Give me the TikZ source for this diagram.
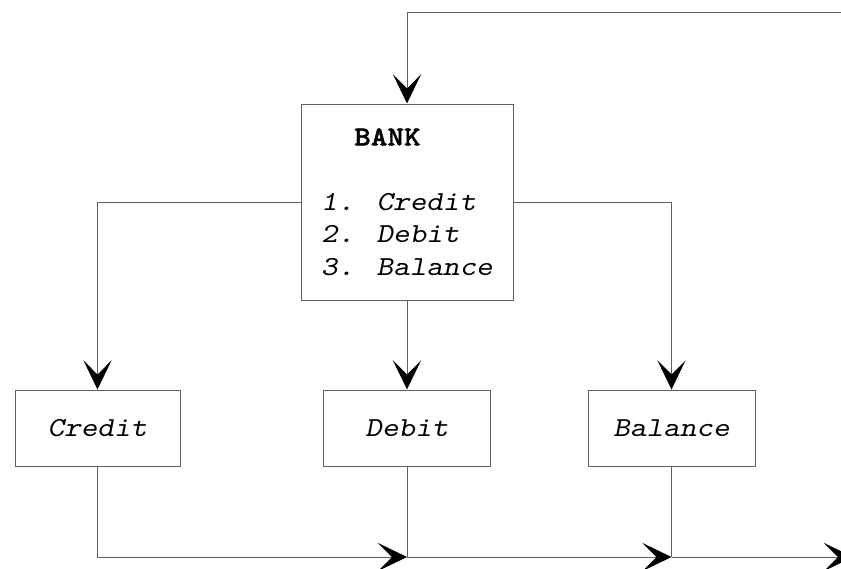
\documentclass[tikz,border=0pt]{standalone}
\usepackage{fontspec}
\newfontfamily\cour[Extension=.otf, UprightFont=lmmono10-regular, ItalicFont=lmmonoslant10-regular, BoldFont=lmmonolt10-bold, BoldFeatures={FakeBold=1.5}, FakeStretch=1.15]{lmmono10}
\usetikzlibrary{arrows.meta}
\begin{document}
\begin{tikzpicture}[x=1pt,y=-1pt,
  line/.style={draw=black!62, line width=1pt},
  tip/.style={-{Stealth[length=29pt,width=28pt,inset=14pt,black]}},
  box/.style={draw=black!62, line width=1pt, rectangle, inner sep=0pt,
    font=\cour\fontsize{27.5}{32.5}\selectfont\itshape},
]
\useasboundingbox (0,0) rectangle (841,568);
\node[box, minimum width=212pt, minimum height=196pt, align=left] (bank) at (407,202)
  {\hspace*{1.2em}{\upshape\bfseries BANK}\\[32.5pt]1. Credit\\2. Debit\\3. Balance};
\node[box, minimum width=165pt, minimum height=76pt] (credit) at (97.5,428) {Credit};
\node[box, minimum width=167pt, minimum height=76pt] (debit) at (407,428) {Debit};
\node[box, minimum width=167pt, minimum height=76pt] (balance) at (671.5,428) {Balance};
\coordinate (tr) at (860,12);
\coordinate (j1) at (407,557);
\coordinate (j2) at (671.5,557);
\coordinate (out) at (853,557);
\draw[line,tip] (tr) -| (bank.north);
\draw[line,tip] (bank.west) -| (credit.north);
\draw[line,tip] (bank.south) -- (debit.north);
\draw[line,tip] (bank.east) -| (balance.north);
\draw[line,tip] (credit.south) |- (j1);
\draw[line] (debit.south) -- (j1);
\draw[line,tip] (j1) -- (j2);
\draw[line] (balance.south) -- (j2);
\draw[line,tip] (j2) -- (out);
\end{tikzpicture}
\end{document}
